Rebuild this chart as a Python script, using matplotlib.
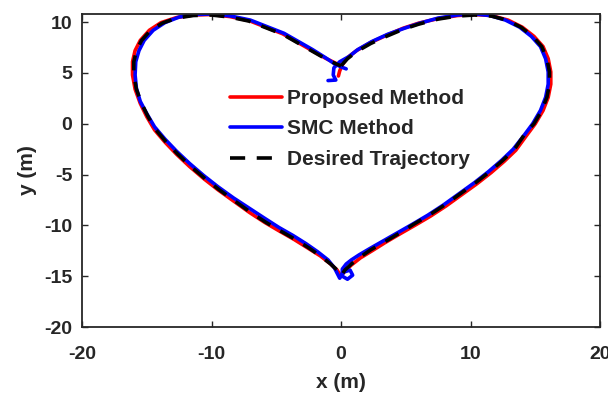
import matplotlib
matplotlib.use("Agg")
import matplotlib.pyplot as plt

plt.rcParams['font.family'] = ['Liberation Sans', 'DejaVu Sans']
plt.rcParams['font.weight'] = 'bold'
plt.rcParams['axes.unicode_minus'] = False

# Desired trajectory, clockwise from the top cusp
des_x = [0, 0.5, 1.2, 2.3, 3.5, 4.8, 6.0, 7.5, 9.0, 10.3, 11.6, 12.8, 13.9, 14.8, 15.5, 15.9,
         16.1, 16.1, 15.9, 15.5, 14.9, 14.2, 13.4, 12.5, 11.5, 10.4, 9.2, 8.0, 6.8, 5.6, 4.6,
         3.4, 2.3, 1.5, 0.8, 0.3, 0,
         -0.3, -0.8, -1.6, -2.5, -3.5, -4.6, -5.8, -7.0, -8.2, -9.4, -10.5, -11.6, -12.6, -13.5,
         -14.3, -14.9, -15.4, -15.8, -16.0, -16.0, -15.8, -15.4, -14.7, -13.8, -12.7, -11.4,
         -10.0, -8.6, -7.1, -5.7, -4.5, -3.4, -2.3, -1.2, -0.4, 0]
des_y = [5.7, 6.4, 7.1, 7.9, 8.6, 9.3, 9.8, 10.3, 10.6, 10.7, 10.6, 10.2, 9.5, 8.6, 7.6, 6.4,
         5.1, 3.9, 2.6, 1.3, 0.0, -1.0, -2.5, -3.6, -4.7, -5.8, -6.9, -8.0, -9.0, -9.9, -10.7,
         -11.6, -12.4, -13.1, -13.8, -14.4, -15.0,
         -14.4, -13.8, -13.0, -12.2, -11.4, -10.6, -9.7, -8.7, -7.6, -6.5, -5.4, -4.2, -3.0, -1.8,
         -0.6, 0.7, 2.0, 3.4, 4.8, 6.1, 7.2, 8.2, 9.2, 9.9, 10.4, 10.65,
         10.7, 10.5, 10.1, 9.4, 8.8, 8.0, 7.2, 6.4, 5.9, 5.7]

# Proposed method (red)
pro_x = [-0.2, -0.1, 0.1, 0.5, 1.2, 2.3, 3.5, 4.8, 6.0, 7.5, 9.0, 10.3, 11.6, 12.9, 14.0, 14.9,
         15.6, 16.0, 16.2, 16.2, 16.0, 15.6, 15.0, 14.3, 13.5, 12.6, 11.6, 10.5, 9.3, 8.1, 6.9,
         5.7, 4.6, 3.4, 2.4, 1.5, 0.8, 0.3, 0.0,
         -0.3, -0.8, -1.6, -2.6, -3.6, -4.7, -5.9, -7.1, -8.3, -9.5, -10.6, -11.7, -12.7, -13.6,
         -14.4, -15.0, -15.5, -15.9, -16.1, -16.1, -15.9, -15.5, -14.8, -13.9, -12.7, -11.4,
         -10.0, -8.6, -7.1, -5.7, -4.5, -3.4, -2.3, -1.2, -0.4, 0.0]
pro_y = [4.7, 5.2, 5.8, 6.5, 7.2, 8.0, 8.7, 9.4, 9.9, 10.35, 10.65, 10.75, 10.65, 10.2, 9.5, 8.6,
         7.6, 6.4, 5.1, 3.9, 2.6, 1.3, 0.0, -1.2, -2.6, -3.7, -4.8, -5.9, -7.0, -8.1, -9.1,
         -10.0, -10.8, -11.7, -12.5, -13.2, -13.9, -14.5, -15.0,
         -14.4, -13.8, -13.0, -12.2, -11.4, -10.6, -9.7, -8.7, -7.6, -6.5, -5.4, -4.2, -3.0, -1.8,
         -0.6, 0.7, 2.0, 3.4, 4.8, 6.1, 7.2, 8.2, 9.2, 9.95, 10.45, 10.7,
         10.75, 10.55, 10.15, 9.45, 8.85, 8.05, 7.25, 6.45, 5.95, 5.7]

# SMC method (blue)
smc_x = [-1.0, -0.4, -0.6, -0.55, -0.1, 0.6, 1.3, 2.4, 3.6, 4.9, 6.1, 7.5, 9.0, 10.3, 11.5, 12.7,
         13.8, 14.7, 15.4, 15.8, 16.0, 16.0, 15.8, 15.4, 14.8, 14.1, 13.3, 12.4, 11.4, 10.3, 9.1,
         7.9, 6.7, 5.5, 4.4, 3.3, 2.2, 1.4, 0.8, 0.4, 0.1, 0.1, 0.5, 0.9, 0.7, 0.2, -0.1,
         -0.5, -1.0, -1.8, -2.7, -3.7, -4.8, -5.9, -7.1, -8.3, -9.5, -10.6, -11.7, -12.7, -13.6,
         -14.4, -15.0, -15.5, -15.8, -15.9, -15.85, -15.6, -15.2, -14.5, -13.6, -12.5, -11.3,
         -9.9, -8.5, -7.0, -5.6, -4.4, -3.3, -2.2, -1.2, -0.5, 0.0, 0.4]
smc_y = [4.25, 4.3, 4.8, 5.5, 6.1, 6.6, 7.3, 8.1, 8.8, 9.4, 9.9, 10.4, 10.7, 10.8, 10.65, 10.2,
         9.5, 8.6, 7.6, 6.4, 5.1, 3.9, 2.6, 1.3, 0.0, -1.2, -2.5, -3.6, -4.7, -5.8, -6.9,
         -8.0, -9.0, -9.9, -10.7, -11.5, -12.3, -12.9, -13.4, -13.8, -14.3, -15.0, -15.3, -14.9,
         -14.4, -14.6, -15.2,
         -14.2, -13.4, -12.6, -11.8, -11.0, -10.2, -9.3, -8.3, -7.3, -6.2, -5.1, -3.9, -2.7, -1.5,
         -0.3, 1.0, 2.2, 3.5, 4.8, 6.1, 7.2, 8.2, 9.2, 9.95, 10.5, 10.75,
         10.8, 10.6, 10.2, 9.5, 8.9, 8.1, 7.3, 6.5, 5.9, 5.6, 5.4]

labels = ['Proposed Method', 'SMC Method', 'Desired Trajectory']
xticks = [-20, -10, 0, 10, 20]
yticks = [-20, -15, -10, -5, 0, 5, 10]

fig = plt.figure(figsize=(6.08, 3.94), dpi=100)
ax = fig.add_axes([82/608, 1-327/394, (600-82)/608, (327-14)/394])

ax.plot(pro_x, pro_y, color='#ff0000', lw=2.6, label=labels[0], solid_capstyle='round')
ax.plot(smc_x, smc_y, color='#0000ff', lw=2.6, label=labels[1], solid_capstyle='round')
ax.plot(des_x, des_y, color='black', lw=2.6, dashes=(4.2, 3.2), label=labels[2])

ax.set_xlim(-20, 20)
ax.set_ylim(-20, 10.8)
ax.set_xticks(xticks)
ax.set_yticks(yticks)
ax.tick_params(direction='in', top=True, right=True, length=4, width=1.0,
               labelsize=14, colors='#262626')
ax.tick_params(axis='x', pad=14)
ax.tick_params(axis='y', pad=7)
for lab in ax.get_xticklabels() + ax.get_yticklabels():
    lab.set_fontweight('bold')
for s in ax.spines.values():
    s.set_linewidth(1.3)
    s.set_color('#262626')

ax.set_xlabel('x (m)', fontsize=15, fontweight='bold', color='#262626', labelpad=7)
ax.set_ylabel('y (m)', fontsize=15, fontweight='bold', color='#262626', labelpad=5)

leg = ax.legend(loc='upper left', bbox_to_anchor=(230/608, 1-89/394),
                bbox_transform=fig.transFigure, frameon=False,
                prop={'size': 15, 'weight': 'bold'}, handlelength=2.5,
                handletextpad=0.24, labelspacing=0.55, borderpad=0, borderaxespad=0)
for t in leg.get_texts():
    t.set_color('#262626')

fig.savefig('out.png', dpi=100)
